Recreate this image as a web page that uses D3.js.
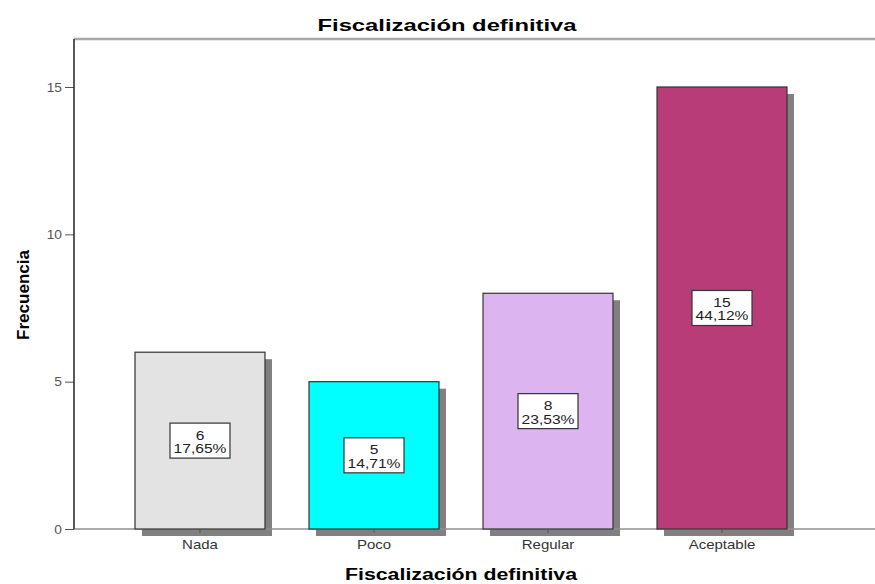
<!DOCTYPE html>
<html>
<head>
<meta charset="utf-8">
<script src="https://cdn.jsdelivr.net/npm/d3@7"></script>
<style>
  body { margin: 0; background: #fff; }
  text { font-family: "Liberation Sans", Arial, sans-serif; }
</style>
</head>
<body>
<script>
'use strict';

// chart data
const categories = ["Nada", "Poco", "Regular", "Aceptable"];
const counts = [6, 5, 8, 15];
const percents = ["17,65%", "14,71%", "23,53%", "44,12%"];
const yTicks = [0, 5, 10, 15];
const barColors = ["#e3e3e3", "#00ffff", "#dcb5f0", "#b83c78"];

(function() {
  const width = 875, height = 584;
  const stretch = 1.2; // text in the original looks widened
  const svg = d3.select('body').append('svg')
    .attr('width', width)
    .attr('height', height);

  // plot area
  const plotLeft = 74, plotTop = 39, plotBottom = 529;

  // y scale : 15 sits at y=87
  let yScale = d3.scaleLinear()
    .domain([0, 15])
    .range([plotBottom, 87]);

  // x scale: bar bands
  let xScale = d3.scaleBand()
    .domain(categories)
    .range([48, 874])
    .paddingInner(0.253)
    .paddingOuter(0.5);

  // frame : top gray line
  svg.append('line')
    .attr('x1', plotLeft).attr('x2', width)
    .attr('y1', plotTop).attr('y2', plotTop)
    .attr('stroke', '#a8a8a8').attr('stroke-width', 2.5);

  // bar shadows
  const shadow = 7;
  svg.selectAll('.shadow')
    .data(categories)
    .enter()
    .append('rect')
      .attr('class', 'shadow')
      .attr('x', (d) => xScale(d) + shadow)
      .attr('y', (d, i) => yScale(counts[i]) + shadow)
      .attr('width', xScale.bandwidth())
      .attr('height', (d, i) => plotBottom - yScale(counts[i]))
      .attr('fill', '#808080');

  // bottom axis line
  svg.append('line')
    .attr('x1', plotLeft).attr('x2', width)
    .attr('y1', plotBottom).attr('y2', plotBottom)
    .attr('stroke', '#909090').attr('stroke-width', 1.5);

  // bars
  svg.selectAll('.bar')
    .data(categories)
    .enter()
    .append('rect')
      .attr('class', 'bar')
      .attr('x', (d) => xScale(d))
      .attr('y', (d, i) => yScale(counts[i]))
      .attr('width', xScale.bandwidth())
      .attr('height', (d, i) => plotBottom - yScale(counts[i]))
      .attr('fill', (d, i) => barColors[i])
      .attr('stroke', '#333')
      .attr('stroke-width', 1.2);

  // y axis
  let yAxis = d3.axisLeft(yScale)
    .tickValues(yTicks)
    .tickSize(9)
    .tickPadding(1);
  let gy = svg.append('g')
    .attr('transform', `translate(${plotLeft}, 0)`)
    .call(yAxis);
  gy.select('.domain').remove();
  gy.selectAll('line').attr('stroke', '#555');
  gy.selectAll('text')
    .attr('fill', '#555')
    .attr('x', -12 / 1.1)
    .attr('transform', 'scale(1.1,1)')
    .style('font-size', '12.5px')
    .style('font-family', '"Liberation Sans", Arial, sans-serif');
  svg.append('line')
    .attr('x1', plotLeft).attr('x2', plotLeft)
    .attr('y1', plotTop).attr('y2', plotBottom)
    .attr('stroke', '#222').attr('stroke-width', 1.5);

  // x axis ticks + labels
  let xAxis = d3.axisBottom(xScale)
    .tickSize(4)
    .tickPadding(7);
  let gx = svg.append('g')
    .attr('transform', `translate(0, ${plotBottom})`)
    .call(xAxis);
  gx.select('.domain').remove();
  gx.selectAll('line').attr('stroke', '#555');
  gx.selectAll('text')
    .attr('fill', '#333')
    .attr('transform', `scale(${stretch},1)`)
    .style('font-size', '12.5px')
    .style('font-family', '"Liberation Sans", Arial, sans-serif');

  // value label boxes
  const boxW = 60, boxH = 35;
  let labels = svg.selectAll('.lab')
    .data(categories)
    .enter()
    .append('g')
      .attr('class', 'lab')
      .attr('transform', (d, i) => {
        let cx = xScale(d) + xScale.bandwidth() / 2;
        let cy = (yScale(counts[i]) + plotBottom) / 2;
        return `translate(${cx}, ${cy})`;
      });
  labels.append('rect')
    .attr('x', -boxW / 2).attr('y', -boxH / 2)
    .attr('width', boxW).attr('height', boxH)
    .attr('fill', '#fff')
    .attr('stroke', '#333').attr('stroke-width', 1.2);
  labels.append('text')
    .attr('text-anchor', 'middle')
    .attr('y', -1)
    .attr('transform', `scale(${stretch},1)`)
    .style('font-size', '13px')
    .attr('fill', '#222')
    .text((d, i) => counts[i]);
  labels.append('text')
    .attr('text-anchor', 'middle')
    .attr('y', 12.5)
    .attr('transform', `scale(${stretch},1)`)
    .style('font-size', '13px')
    .attr('fill', '#222')
    .text((d, i) => percents[i]);

  // titles
  svg.append('text')
    .attr('x', 447).attr('y', 31)
    .attr('text-anchor', 'middle')
    .attr('textLength', 259)
    .attr('lengthAdjust', 'spacingAndGlyphs')
    .style('font-size', '17px')
    .style('font-weight', 'bold')
    .text('Fiscalización definitiva');

  svg.append('text')
    .attr('x', 461).attr('y', 580)
    .attr('text-anchor', 'middle')
    .attr('textLength', 232)
    .attr('lengthAdjust', 'spacingAndGlyphs')
    .style('font-size', '16px')
    .style('font-weight', 'bold')
    .text('Fiscalización definitiva');

  svg.append('text')
    .attr('transform', 'translate(29, 295) rotate(-90)')
    .attr('text-anchor', 'middle')
    .attr('textLength', 90)
    .attr('lengthAdjust', 'spacingAndGlyphs')
    .style('font-size', '16px')
    .style('font-weight', 'bold')
    .text('Frecuencia');
})();
</script>
</body>
</html>
